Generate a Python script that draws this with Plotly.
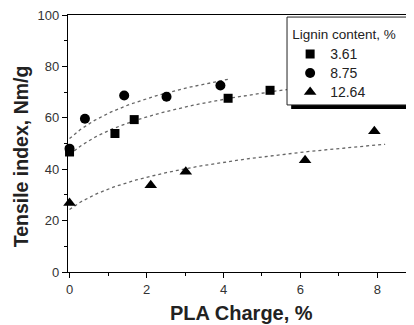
import numpy as np
import plotly.graph_objects as go

# Data
sq_x = [0.0, 1.18, 1.68, 4.12, 5.21]
sq_y = [46.7, 53.9, 59.3, 67.6, 70.7]
ci_x = [0.0, 0.40, 1.42, 2.52, 3.92]
ci_y = [48.0, 59.6, 68.7, 68.2, 72.6]
tr_x = [0.0, 2.11, 3.02, 6.12, 7.92]
tr_y = [26.8, 33.8, 39.0, 43.5, 54.8]
series_names = ["3.61", "8.75", "12.64"]
x_ticks = [0, 2, 4, 6, 8]
y_ticks = [0, 20, 40, 60, 80, 100]


def log_fit(x, y, x_end):
    """Least-squares fit y = a + b*ln(x+1)."""
    x = np.asarray(x, float)
    y = np.asarray(y, float)
    b, a = np.polyfit(np.log(x + 1.0), y, 1)
    xs = np.linspace(0.0, x_end, 200)
    return xs, a + b * np.log(xs + 1.0)


fig = go.Figure()

fits = [(sq_x, sq_y, 8.2), (ci_x, ci_y, 4.17), (tr_x, tr_y, 8.2)]
for fx, fy, xe in fits:
    xs, ys = log_fit(fx, fy, xe)
    fig.add_trace(go.Scatter(x=xs, y=ys, mode="lines", showlegend=False,
                             line=dict(color="#666666", width=1.3, dash="dot"),
                             hoverinfo="skip"))

symbols = ["square", "circle", "triangle-up"]
sizes = [9, 10, 11]
for (xx, yy), nm, sym, sz in zip([(sq_x, sq_y), (ci_x, ci_y), (tr_x, tr_y)],
                                 series_names, symbols, sizes):
    fig.add_trace(go.Scatter(x=xx, y=yy, mode="markers",
                             name="<span style='font-size:14px'>" + nm + "</span>",
                             marker=dict(symbol=sym, size=sz, color="black",
                                         line=dict(width=0)),
                             cliponaxis=False))

font_family = "Liberation Sans, Arial, sans-serif"

# Page body has an 8px margin; figure fills the rest of the 414x325 window
fig.update_layout(
    width=406, height=317,
    margin=dict(l=60, r=0, t=7, b=53),
    paper_bgcolor="white", plot_bgcolor="white",
    font=dict(family=font_family, size=13, color="#333333"),
    showlegend=True,
    legend=dict(
        x=0.642, y=0.973, xanchor="left", yanchor="top",
        bgcolor="rgba(0,0,0,0)", borderwidth=0,
        title=dict(text="Lignin content, %", font=dict(size=13.5, color="#222222")),
        font=dict(size=12, color="#222222"),
        itemwidth=30, tracegroupgap=0,
    ),
    xaxis=dict(
        range=[-0.04, 8.95], tickvals=x_ticks, ticktext=[str(v) for v in x_ticks],
        showgrid=False, zeroline=False, showline=True, linecolor="black",
        linewidth=1.2, mirror=True, ticks="outside", ticklen=5,
        tickcolor="black", tickfont=dict(size=13, color="#333333"),
        minor=dict(tickvals=[1, 3, 5, 7], ticks="outside", ticklen=3,
                   tickcolor="black"),
    ),
    yaxis=dict(
        range=[0, 100], tickvals=y_ticks, ticktext=[str(v) for v in y_ticks],
        showgrid=False, zeroline=False, showline=True, linecolor="black",
        linewidth=1.2, mirror=False, ticks="outside", ticklen=5,
        tickcolor="black", tickfont=dict(size=13, color="#333333"),
        ticklabeloverflow="allow",
        minor=dict(tickvals=[10, 30, 50, 70, 90], ticks="outside", ticklen=3,
                   tickcolor="black"),
    ),
    annotations=[
        dict(text="<b>PLA Charge, %</b>", xref="paper", yref="paper",
             x=0.5, y=-0.16, xanchor="center", yanchor="middle",
             showarrow=False, font=dict(size=20, color="#222222")),
        dict(text="<b>Tensile index, Nm/g</b>", xref="paper", yref="paper",
             x=-0.136, y=0.45, xanchor="center", yanchor="middle",
             textangle=-90, showarrow=False,
             font=dict(size=19.5, color="#222222")),
    ],
    shapes=[
        # legend shadow
        dict(type="rect", xref="paper", yref="paper",
             x0=0.645, x1=1.02, y0=0.634, y1=0.977,
             fillcolor="black", line=dict(width=0), layer="above"),
        # legend box
        dict(type="rect", xref="paper", yref="paper",
             x0=0.633, x1=0.991, y0=0.650, y1=0.992,
             fillcolor="white", line=dict(color="#222222", width=1),
             layer="above"),
    ],
)

fig.write_html("out.html")
